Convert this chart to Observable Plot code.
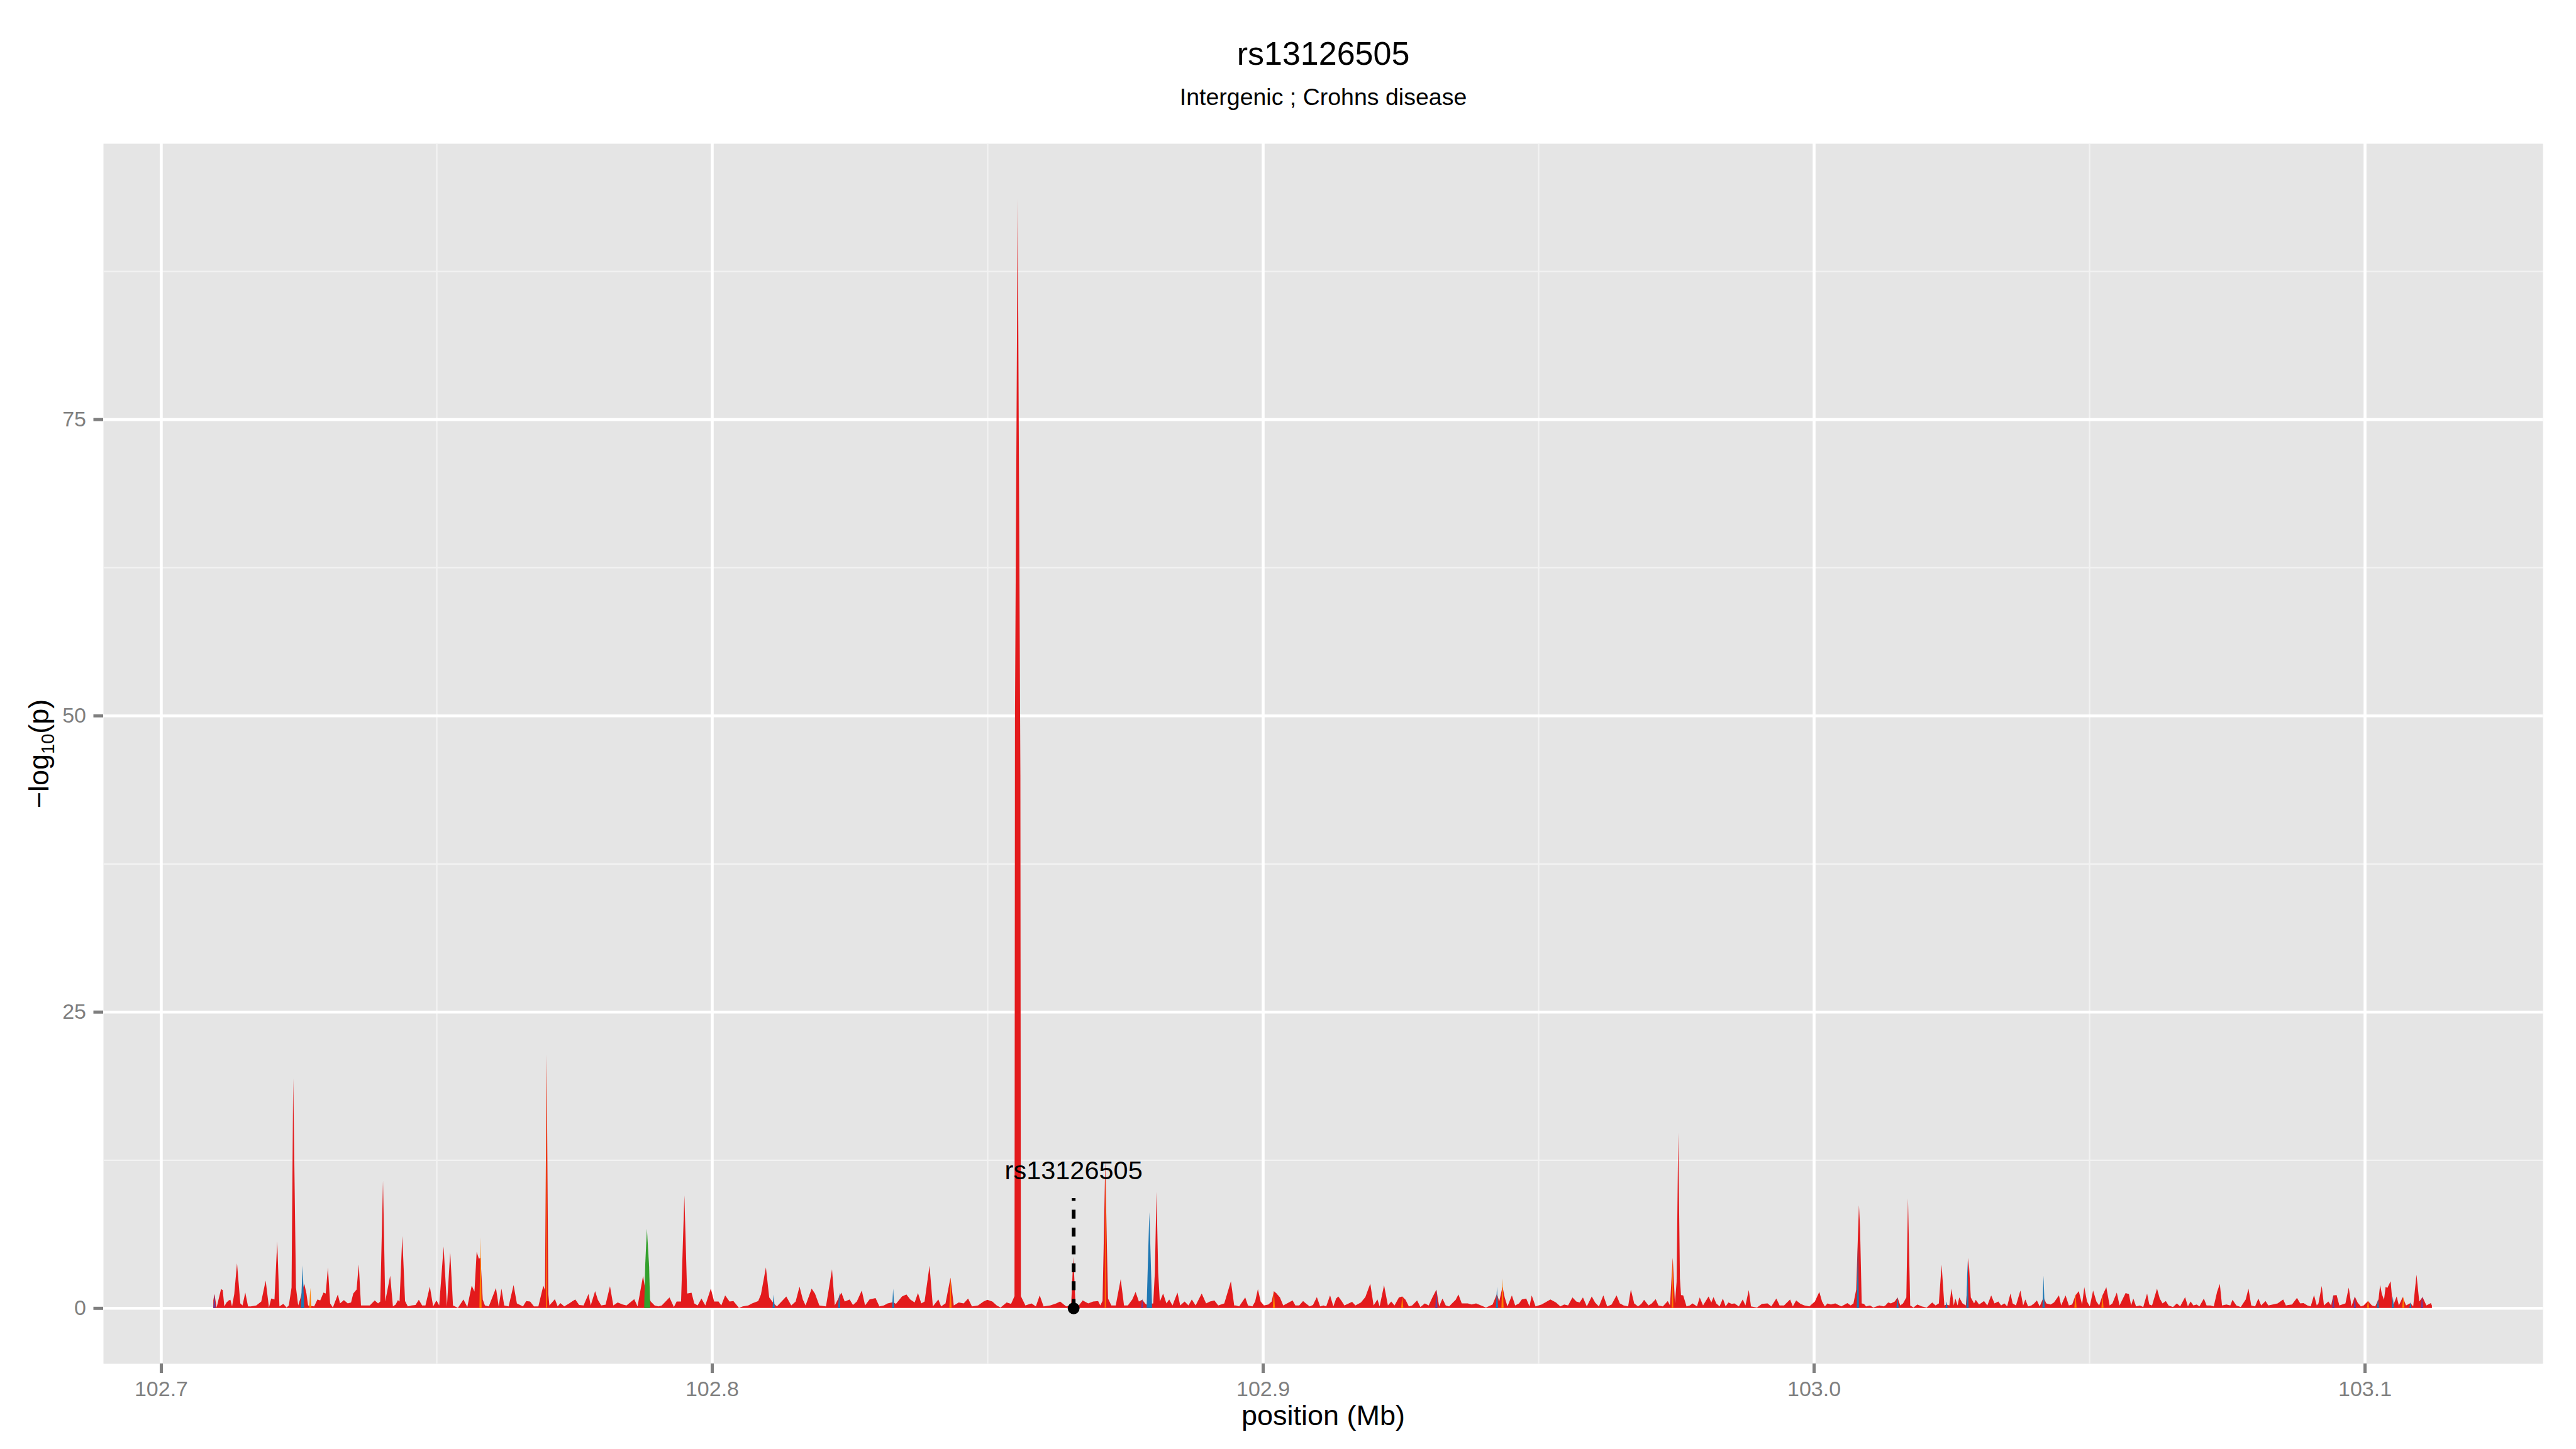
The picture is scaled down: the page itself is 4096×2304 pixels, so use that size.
<!DOCTYPE html>
<html><head><meta charset="utf-8">
<script src="https://cdn.jsdelivr.net/npm/d3@7"></script>
<script src="https://cdn.jsdelivr.net/npm/@observablehq/plot@0.6"></script>
<style>html,body{margin:0;padding:0;background:#fff;overflow:hidden;} #chart{width:4096px;height:2304px;}</style>
</head><body><div id="chart"></div>
<script>
// ---- text ----
const titleText = ["rs13126505"];
const subtitleText = ["Intergenic ; Crohns disease"];
const xTitle = ["position (Mb)"];
const yTitle = ["\u2212log10(p)"];
// ---- ticks ----
const xTicks = [102.7, 102.8, 102.9, 103.0, 103.1];
const xMinor = [102.75, 102.85, 102.95, 103.05];
const yTicks = [0, 25, 50, 75];
const yMinor = [12.5, 37.5, 62.5, 87.5];
// ---- annotated SNP ----
const snp = [{pos: 102.8656, label: "rs13126505", top: 9.28, labelY: 10.9}];
// ---- series: [position (Mb), -log10(p)] ----
const red = [
[102.7095,0.64],[102.7097,1.19],[102.7101,0.05],[102.7109,1.59],[102.7112,1.52],[102.7115,0.13],[102.7119,0.47],[102.7123,0.64],[102.7126,0.69],[102.7129,0.13],
[102.7133,1.19],[102.7138,3.77],[102.7144,0.39],[102.7148,0.22],[102.7153,1.31],[102.7158,0.13],[102.7163,0.13],[102.7173,0.22],[102.7182,0.55],[102.7190,2.31],
[102.7196,0.05],[102.7200,0.80],[102.7206,0.72],[102.7211,5.63],[102.7215,0.13],[102.7222,0.35],[102.7228,0.05],[102.7232,0.22],[102.7237,1.73],[102.7240,19.38],
[102.7245,1.73],[102.7249,0.22],[102.7253,0.80],[102.7260,2.06],[102.7264,1.22],[102.7267,0.22],[102.7278,0.13],[102.7284,0.72],[102.7289,0.64],[102.7295,1.31],
[102.7299,1.22],[102.7303,3.43],[102.7307,0.39],[102.7312,0.05],[102.7321,1.14],[102.7325,0.39],[102.7332,0.67],[102.7339,0.39],[102.7345,0.47],[102.7349,1.22],
[102.7355,1.56],[102.7359,3.68],[102.7363,0.22],[102.7370,0.22],[102.7379,0.22],[102.7388,0.64],[102.7394,0.39],[102.7398,0.55],[102.7403,10.72],[102.7407,0.55],
[102.7416,2.73],[102.7421,0.13],[102.7426,0.30],[102.7430,0.67],[102.7433,0.55],[102.7438,6.08],[102.7443,0.59],[102.7448,0.13],[102.7455,0.22],[102.7462,0.25],
[102.7468,0.69],[102.7474,0.22],[102.7480,0.22],[102.7488,1.81],[102.7494,0.13],[102.7500,0.64],[102.7505,0.22],[102.7513,5.19],[102.7519,0.13],[102.7525,4.71],
[102.7530,0.22],[102.7539,0.02],[102.7549,0.72],[102.7556,0.08],[102.7564,1.89],[102.7569,1.39],[102.7573,4.74],[102.7577,4.15],[102.7580,4.24],[102.7584,0.72],
[102.7588,0.22],[102.7595,0.13],[102.7608,1.69],[102.7613,0.13],[102.7618,1.64],[102.7623,0.22],[102.7631,0.13],[102.7640,1.94],[102.7646,0.39],[102.7657,0.13],
[102.7663,0.59],[102.7670,0.55],[102.7677,0.13],[102.7685,0.13],[102.7694,1.89],[102.7697,1.50],[102.7700,21.4],[102.7703,1.20],[102.7705,0.22],[102.7715,0.75],
[102.7720,0.13],[102.7725,0.42],[102.7732,0.13],[102.7741,0.39],[102.7746,0.55],[102.7752,0.72],[102.7759,0.25],[102.7767,0.22],[102.7776,1.19],[102.7780,0.22],
[102.7788,1.42],[102.7793,0.69],[102.7799,0.22],[102.7807,0.28],[102.7815,1.84],[102.7821,0.22],[102.7829,0.47],[102.7838,0.30],[102.7845,0.22],[102.7859,0.75],
[102.7865,0.13],[102.7875,2.70],[102.7879,1.56],[102.7889,0.55],[102.7896,0.22],[102.7903,0.13],[102.7909,0.22],[102.7923,0.89],[102.7931,0.08],[102.7936,0.55],
[102.7944,0.55],[102.7950,9.51],[102.7955,1.22],[102.7963,1.29],[102.7968,0.39],[102.7974,0.22],[102.7981,0.80],[102.7988,0.22],[102.7998,1.64],[102.8004,0.55],
[102.8012,0.55],[102.8017,0.22],[102.8024,1.06],[102.8032,0.55],[102.8039,0.59],[102.8049,0.02],[102.8056,0.13],[102.8066,0.22],[102.8073,0.39],[102.8084,0.59],
[102.8089,1.14],[102.8098,3.43],[102.8104,0.89],[102.8112,0.39],[102.8118,0.13],[102.8135,0.97],[102.8144,0.22],[102.8152,0.55],[102.8159,1.81],[102.8165,0.72],
[102.8170,0.22],[102.8181,1.64],[102.8187,1.22],[102.8195,0.22],[102.8207,0.13],[102.8218,3.27],[102.8223,0.22],[102.8235,1.31],[102.8241,0.55],[102.8250,0.72],
[102.8256,0.25],[102.8263,0.55],[102.8272,1.47],[102.8278,0.22],[102.8286,0.72],[102.8297,0.84],[102.8304,0.13],[102.8312,0.22],[102.8319,0.39],[102.8329,0.50],
[102.8334,0.35],[102.8345,0.97],[102.8353,1.14],[102.8360,0.72],[102.8368,0.47],[102.8374,1.26],[102.8380,0.39],[102.8386,0.55],[102.8395,3.57],[102.8401,0.13],
[102.8411,0.72],[102.8416,0.13],[102.8424,0.39],[102.8433,2.56],[102.8439,0.22],[102.8448,0.47],[102.8457,0.39],[102.8465,0.80],[102.8472,0.13],[102.8483,0.22],
[102.8493,0.55],[102.8500,0.69],[102.8509,0.55],[102.8517,0.22],[102.8524,0.05],[102.8535,0.47],[102.8543,0.35],[102.85492,1.0],[102.85501,50],[102.85550,93.6],
[102.85599,45],[102.85608,1.0],[102.8569,0.22],[102.8580,0.39],[102.8588,0.13],[102.8595,1.06],[102.8602,0.13],[102.8614,0.22],[102.8625,0.39],[102.8632,0.55],
[102.8643,0.13],[102.8652,0.22],[102.8656,4.30],[102.8660,0.30],[102.8666,0.22],[102.8673,0.64],[102.8683,0.39],[102.8692,0.55],[102.8701,0.59],[102.8705,0.22],
[102.8709,0.60],[102.8711,5.0],[102.8714,12.4],[102.8717,5.0],[102.8719,0.80],[102.8725,0.22],[102.8733,0.22],[102.8742,2.43],[102.8748,0.22],[102.8755,0.22],
[102.8763,0.72],[102.8769,1.36],[102.8775,0.55],[102.8781,0.70],[102.8788,0.30],[102.8801,0.39],[102.8804,3.0],[102.8807,9.80],[102.8810,3.0],[102.8813,0.55],
[102.8819,1.22],[102.8825,0.39],[102.8830,0.72],[102.8836,0.22],[102.8845,1.31],[102.8850,0.22],[102.8858,0.55],[102.8865,0.22],[102.8871,0.72],[102.8878,0.22],
[102.8889,1.22],[102.8897,0.39],[102.8904,0.55],[102.8912,0.64],[102.8919,0.22],[102.8930,0.39],[102.8942,2.26],[102.8948,0.22],[102.8951,0.22],[102.8957,0.13],
[102.8968,0.89],[102.8973,0.22],[102.8981,0.13],[102.8986,0.55],[102.8991,1.59],[102.8996,0.55],[102.9002,0.22],[102.9010,0.30],[102.9016,0.55],[102.9020,1.42],
[102.9025,1.22],[102.9031,0.89],[102.9037,0.22],[102.9044,0.39],[102.9054,0.64],[102.9059,0.22],[102.9066,0.22],[102.9073,0.59],[102.9078,0.39],[102.9085,0.13],
[102.9091,0.25],[102.9098,0.92],[102.9104,0.13],[102.9110,0.22],[102.9115,0.13],[102.9122,1.06],[102.9128,0.13],[102.9133,0.80],[102.9137,0.97],[102.9143,0.59],
[102.9148,0.22],[102.9156,0.39],[102.9162,0.52],[102.9168,0.22],[102.9178,0.47],[102.9186,0.92],[102.9195,2.06],[102.9201,0.22],[102.9208,0.72],[102.9212,0.13],
[102.9220,1.93],[102.9227,0.22],[102.9233,0.55],[102.9239,0.22],[102.9247,0.89],[102.9253,0.97],[102.9259,0.69],[102.9265,0.13],[102.9271,0.22],[102.9280,0.64],
[102.9286,0.08],[102.9294,0.39],[102.9301,0.22],[102.9308,0.92],[102.9315,1.56],[102.9320,0.13],[102.9326,0.80],[102.9332,0.22],[102.9338,0.13],[102.9350,0.69],
[102.9355,1.14],[102.9361,0.39],[102.9372,0.39],[102.9379,0.30],[102.9387,0.39],[102.9396,0.22],[102.9405,0.05],[102.9417,0.30],[102.9425,1.20],[102.9429,0.55],
[102.9435,1.80],[102.9439,0.89],[102.9444,0.13],[102.9452,1.06],[102.9458,0.22],[102.9465,0.39],[102.9470,0.72],[102.9478,0.80],[102.9484,0.13],[102.9488,1.06],
[102.9495,0.13],[102.9506,0.30],[102.9522,0.72],[102.9532,0.47],[102.9540,0.13],[102.9547,0.30],[102.9554,0.22],[102.9562,0.89],[102.9569,0.55],[102.9575,0.47],
[102.9581,0.89],[102.9588,0.13],[102.9597,0.97],[102.9603,0.47],[102.9610,0.13],[102.9618,1.06],[102.9625,0.13],[102.9633,0.30],[102.9642,1.06],[102.9648,0.39],
[102.9655,0.22],[102.9663,0.13],[102.9668,1.56],[102.9674,0.39],[102.9681,0.13],[102.9687,0.35],[102.9692,0.69],[102.9700,0.22],[102.9706,0.39],[102.9713,0.75],
[102.9718,0.22],[102.9726,0.13],[102.9735,0.59],[102.9739,0.22],[102.9744,4.24],[102.9748,0.39],[102.9751,2.20],[102.9754,14.79],[102.9757,2.50],[102.9759,1.09],
[102.9763,1.06],[102.9769,0.13],[102.9775,0.22],[102.9780,0.39],[102.9788,0.13],[102.9793,0.89],[102.9799,0.22],[102.9809,0.97],[102.9814,0.47],[102.9818,0.92],
[102.9823,0.39],[102.9829,0.13],[102.9835,0.80],[102.9840,0.13],[102.9845,0.47],[102.9851,0.35],[102.9856,0.39],[102.9864,0.13],[102.9871,0.72],[102.9876,0.22],
[102.9882,1.52],[102.9886,0.13],[102.9897,0.05],[102.9906,0.35],[102.9916,0.39],[102.9923,0.13],[102.9932,0.80],[102.9938,0.22],[102.9946,0.22],[102.9957,0.72],
[102.9962,0.13],[102.9968,0.64],[102.9976,0.35],[102.9983,0.22],[102.9992,0.13],[103.0002,0.55],[103.0010,1.36],[103.0015,0.55],[103.0020,0.13],[103.0025,0.39],
[103.0031,0.30],[103.0039,0.39],[103.0050,0.13],[103.0061,0.42],[103.0067,0.22],[103.0072,0.39],[103.0077,1.56],[103.0080,5.91],[103.0082,8.68],[103.0084,6.75],
[103.0087,0.39],[103.0091,0.35],[103.0095,0.13],[103.0102,0.22],[103.0108,0.05],[103.0119,0.22],[103.0127,0.13],[103.0130,0.22],[103.0135,0.47],[103.0140,0.39],
[103.0147,0.55],[103.0152,0.89],[103.0157,0.22],[103.0162,0.39],[103.0168,0.89],[103.0171,9.26],[103.0175,0.22],[103.0181,0.05],[103.0188,0.30],[103.0196,0.13],
[103.0205,0.05],[103.0215,0.47],[103.0221,0.22],[103.0227,0.39],[103.0232,3.65],[103.0237,0.22],[103.0241,0.30],[103.0246,0.22],[103.0250,1.64],[103.0254,0.22],
[103.0257,0.80],[103.0261,0.22],[103.0264,0.89],[103.0270,0.39],[103.0276,0.22],[103.0278,1.50],[103.0281,4.24],[103.0285,0.89],[103.0291,0.39],[103.0294,0.69],
[103.0300,0.30],[103.0309,0.59],[103.0315,0.22],[103.0322,1.06],[103.0328,0.39],[103.0335,0.55],[103.0340,0.22],[103.0346,0.39],[103.0351,0.13],[103.0357,1.22],
[103.0361,0.39],[103.0367,0.22],[103.0375,1.47],[103.0380,0.22],[103.0384,0.72],[103.0389,0.13],[103.0395,0.22],[103.0400,0.39],[103.0405,0.64],[103.0410,0.13],
[103.0417,0.89],[103.0422,0.39],[103.0430,0.30],[103.0436,0.47],[103.0445,1.06],[103.0449,0.22],[103.0457,1.06],[103.0463,0.22],[103.0469,0.30],[103.0475,1.06],
[103.0481,1.42],[103.0487,0.30],[103.0491,1.76],[103.0496,0.55],[103.0501,0.13],[103.0507,1.47],[103.0513,0.55],[103.0518,0.22],[103.0524,1.06],[103.0531,1.76],
[103.0537,0.22],[103.0542,0.39],[103.0550,1.31],[103.0555,0.22],[103.0566,1.26],[103.0572,1.17],[103.0576,0.22],[103.0580,0.80],[103.0585,0.13],[103.0592,0.22],
[103.0598,0.08],[103.0605,1.22],[103.0609,0.30],[103.0614,0.22],[103.0623,1.64],[103.0628,0.80],[103.0633,0.39],[103.0639,0.59],[103.0644,0.22],[103.0652,0.08],
[103.0659,0.39],[103.0665,0.13],[103.0674,0.92],[103.0679,0.13],[103.0684,0.55],[103.0689,0.22],[103.0695,0.30],[103.0700,0.13],[103.0708,0.80],[103.0713,0.22],
[103.0720,0.22],[103.0726,0.13],[103.0732,1.36],[103.0737,2.03],[103.0741,0.22],[103.0749,0.30],[103.0756,0.22],[103.0760,0.69],[103.0767,0.22],[103.0775,0.08],
[103.0784,0.72],[103.0789,1.64],[103.0794,0.22],[103.0801,0.13],[103.0807,0.80],[103.0812,0.22],[103.0820,0.59],[103.0825,0.22],[103.0833,0.30],[103.0842,0.39],
[103.0852,0.72],[103.0857,0.22],[103.0861,0.25],[103.0868,0.30],[103.0877,0.85],[103.0883,0.39],[103.0889,0.42],[103.0896,0.22],[103.0902,0.13],[103.0908,1.09],
[103.0913,0.22],[103.0916,0.39],[103.0922,1.86],[103.0926,0.22],[103.0934,0.55],[103.0939,0.22],[103.0943,1.06],[103.0949,1.09],[103.0954,0.22],[103.0959,0.30],
[103.0965,0.39],[103.0971,1.73],[103.0976,0.13],[103.0982,0.97],[103.0987,0.47],[103.0993,0.13],[103.0998,0.22],[103.1006,0.59],[103.1013,0.22],[103.1019,0.13],
[103.1025,0.72],[103.1028,1.96],[103.1031,1.20],[103.1035,0.70],[103.1038,1.80],[103.1041,1.69],[103.1047,2.26],[103.1051,0.13],[103.1058,0.97],[103.1062,0.22],
[103.1069,0.92],[103.1075,0.22],[103.1083,0.42],[103.1088,0.13],[103.1094,2.81],[103.1099,0.55],[103.1105,0.92],[103.1112,0.22],[103.1120,0.42],[103.1122,0.20]
];
const blue = [
[102.7254,0],[102.7257,3.6],[102.7260,0],[102.8110,0],[102.8112,1.14],[102.8114,0],[102.8229,0],[102.8231,1.3],[102.8233,0],
[102.8327,0],[102.8329,1.64],[102.8331,0],[102.8789,0],[102.8794,8.1],[102.8799,0],[102.9423,0],[102.9425,1.8],[102.9427,0],
[103.0078,0],[103.0080,5.5],[103.0082,0],[103.0150,0],[103.0152,0.9],[103.0154,0],[103.0239,0],[103.0241,0.55],[103.0243,0],
[103.0277,0],[103.0279,4.0],[103.0281,0],[103.0415,0],[103.0417,2.73],[103.0419,0],[103.1022,0],[103.1024,0.75],[103.1026,0],
[103.1049,0],[103.1051,1.0],[103.1053,0],[103.1081,0],[103.1083,0.5],[103.1085,0]
];
const purple = [
[102.7095,0],[102.7097,1.19],[102.7099,0],[102.8779,0],[102.8781,0.8],[102.8783,0],[102.9313,0],[102.9315,1.56],[102.9317,0],
[103.0941,0],[103.0943,1.06],[103.0945,0],[103.0980,0],[103.0982,0.97],[103.0984,0],[103.1102,0],[103.1104,0.98],[103.1106,0]
];
const orange = [
[102.7269,0],[102.7271,1.7],[102.7273,0],[102.7578,0],[102.7580,5.96],[102.7582,0],[102.7699,0],[102.7700,21.0],[102.7701,0],
[102.8431,0],[102.8433,2.56],[102.8435,0],[102.8713,0],[102.8714,12.4],[102.8715,0],[102.9018,0],[102.9020,1.42],[102.9022,0],
[102.9251,0],[102.9253,1.0],[102.9255,0],[102.9433,0],[102.9435,2.48],[102.9437,0],[102.9742,0],[102.9744,4.24],[102.9745,0],
[103.0473,0],[103.0475,1.22],[103.0477,0],[103.0522,0],[103.0524,1.06],[103.0526,0],[103.1004,0],[103.1006,0.65],[103.1008,0],
[103.1068,0],[103.1070,0.98],[103.1072,0]
];
const green = [[102.7877,0],[102.7879,3.7],[102.7882,6.7],[102.7886,3.5],[102.7888,0]];

const series = [
  {name: "red", color: "#E31A1C", data: red},
  {name: "blue", color: "#1F78B4", data: blue},
  {name: "purple", color: "#6A3D9A", data: purple},
  {name: "orange", color: "#FF7F00", data: orange},
  {name: "green", color: "#33A02C", data: green}
];

const grey = "#7F7F7F";
const areaMarks = series.map(s => Plot.areaY(s.data.slice().sort((a, b) => a[0] - b[0]),
  {x: d => d[0], y: d => d[1], fill: s.color, curve: "linear"}));

const svg = Plot.plot({
  width: 4096, height: 2304,
  marginLeft: 164, marginRight: 53, marginTop: 228, marginBottom: 136,
  x: {domain: [102.6895, 103.1323]},
  y: {domain: [-4.68, 98.28]},
  style: {fontFamily: "'Liberation Sans', Arial, Helvetica, sans-serif", background: "white", color: "black"},
  marks: [
    Plot.frame({fill: "#E5E5E5", stroke: "none"}),
    Plot.ruleX(xMinor, {stroke: "#F2F2F2", strokeWidth: 2.3}),
    Plot.ruleY(yMinor, {stroke: "#F2F2F2", strokeWidth: 2.3}),
    Plot.ruleX(xTicks, {stroke: "#FFFFFF", strokeWidth: 4.6}),
    Plot.ruleY(yTicks, {stroke: "#FFFFFF", strokeWidth: 4.6}),
    ...areaMarks,
    Plot.ruleX(snp, {x: "pos", y1: () => 0, y2: "top", stroke: "black", strokeWidth: 6, strokeDasharray: "14.2,14.2"}),
    Plot.dot(snp, {x: "pos", y: () => 0, r: 9.4, fill: "black", stroke: "none"}),
    Plot.text(snp, {x: "pos", y: "labelY", text: "label", fontSize: 41.5, lineAnchor: "bottom", fill: "black"}),
    Plot.axisX(xTicks, {tickSize: 15, tickPadding: 12, fontSize: 34, stroke: grey, fill: grey, strokeWidth: 5, label: null, tickFormat: d => d.toFixed(1)}),
    Plot.axisY(yTicks, {tickSize: 15.5, tickPadding: 12, fontSize: 34, stroke: grey, fill: grey, strokeWidth: 5, label: null, tickFormat: d => String(d)}),
    Plot.text(titleText, {text: d => d, frameAnchor: "top", dy: -126, lineAnchor: "bottom", fontSize: 52, fill: "black"}),
    Plot.text(subtitleText, {text: d => d, frameAnchor: "top", dy: -62, lineAnchor: "bottom", fontSize: 37.5, fill: "black"}),
    Plot.text(xTitle, {text: d => d, frameAnchor: "bottom", dy: 97.6, lineAnchor: "bottom", fontSize: 45, fill: "black"}),
    Plot.text(yTitle, {text: d => d, frameAnchor: "left", textAnchor: "middle", dx: -88, rotate: -90, lineAnchor: "bottom", fontSize: 45, fill: "black"})
  ]
});

// subscript for the y-axis title
const ns = "http://www.w3.org/2000/svg";
svg.querySelectorAll("text").forEach(t => {
  if (t.textContent === yTitle[0]) {
    t.textContent = "";
    const a = document.createElementNS(ns, "tspan"); a.textContent = "\u2212log";
    const b = document.createElementNS(ns, "tspan"); b.textContent = "10"; b.setAttribute("font-size", "29"); b.setAttribute("dy", "9");
    const c = document.createElementNS(ns, "tspan"); c.textContent = "(p)"; c.setAttribute("dy", "-9");
    t.append(a, b, c);
  }
});
document.getElementById("chart").append(svg);
</script>
</body></html>
